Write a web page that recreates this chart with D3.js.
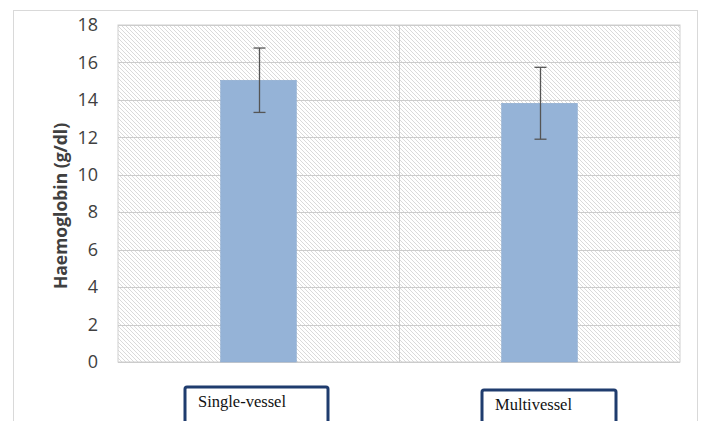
<!DOCTYPE html>
<html>
<head>
<meta charset="utf-8">
<script src="https://cdn.jsdelivr.net/npm/d3@7"></script>
<style>
  html, body { margin: 0; padding: 0; background: #ffffff; }
  #chart { width: 702px; height: 421px; overflow: hidden; }
  .cat-label { font-family: 'Liberation Serif', 'Times New Roman', 'DejaVu Serif', serif; }
</style>
</head>
<body>
<div id="chart"></div>
<script>
const categories = ['Single-vessel', 'Multivessel']
const meanValues = [15.05, 13.82]
const sdValues = [1.72, 1.92]
const yTicks = [0, 2, 4, 6, 8, 10, 12, 14, 16, 18]

const width = 702
const height = 421
const margin = { left: 118, top: 25, right: 22, bottom: 59 }

const svg = d3
  .select('#chart')
  .append('svg')
  .attr('width', width)
  .attr('height', height)

// hatch fill of the plot area
const defs = svg.append('defs')
const hatch = defs
  .append('pattern')
  .attr('id', 'hatch')
  .attr('patternUnits', 'userSpaceOnUse')
  .attr('width', 4)
  .attr('height', 4)
hatch.append('rect').attr('width', 4).attr('height', 4).attr('fill', '#ffffff')
hatch
  .append('path')
  .attr('d', 'M-1,-1 L5,5 M-1,3 L1,5 M3,-1 L5,1')
  .attr('stroke', '#dadada')
  .attr('stroke-width', 1)

// outer chart border
svg
  .append('rect')
  .attr('x', 13.5)
  .attr('y', 10.5)
  .attr('width', 684)
  .attr('height', 440)
  .attr('fill', 'none')
  .attr('stroke', '#d9d9d9')
  .attr('stroke-width', 1)

const xScale = d3
  .scaleBand()
  .domain(categories)
  .range([margin.left, width - margin.right])
  .paddingInner(0.73)
  .paddingOuter(0.365)

const yScale = d3
  .scaleLinear()
  .domain([0, 18])
  .range([height - margin.bottom, margin.top])

const plotLeft = margin.left
const plotRight = width - margin.right
const plotTop = yScale(18)
const plotBottom = yScale(0)

svg
  .append('rect')
  .attr('x', plotLeft)
  .attr('y', plotTop)
  .attr('width', plotRight - plotLeft)
  .attr('height', plotBottom - plotTop)
  .attr('fill', 'url(#hatch)')
  .attr('stroke', '#cfcfcf')
  .attr('stroke-width', 1)

// horizontal grid
svg
  .append('g')
  .selectAll('line')
  .data(yTicks)
  .join('line')
  .attr('x1', plotLeft)
  .attr('x2', plotRight)
  .attr('y1', d => Math.round(yScale(d)) + 0.5)
  .attr('y2', d => Math.round(yScale(d)) + 0.5)
  .attr('stroke', '#cccccc')
  .attr('stroke-width', 1)

// vertical separator between categories
const step = xScale.step()
const midX = Math.round(xScale(categories[0]) + xScale.bandwidth() / 2 + step / 2) + 0.5
svg
  .append('line')
  .attr('x1', midX)
  .attr('x2', midX)
  .attr('y1', plotTop)
  .attr('y2', plotBottom)
  .attr('stroke', '#cccccc')
  .attr('stroke-width', 1)

// y axis labels
const yAxis = d3.axisLeft(yScale).tickValues(yTicks).tickSize(0).tickPadding(20)
const yAxisG = svg
  .append('g')
  .attr('transform', `translate(${plotLeft}, 0)`)
  .call(yAxis)
yAxisG.select('.domain').remove()
yAxisG
  .selectAll('text')
  .attr('font-family', 'Open Sans, sans-serif')
  .attr('font-size', 18)
  .attr('fill', '#404040')

svg
  .append('text')
  .attr('transform', 'translate(67, 206) rotate(-90)')
  .attr('text-anchor', 'middle')
  .attr('font-family', 'Open Sans, sans-serif')
  .attr('font-weight', 'bold')
  .attr('font-size', 17.5)
  .attr('fill', '#404040')
  .text('Haemoglobin (g/dl)')

// bars
svg
  .append('g')
  .selectAll('rect')
  .data(categories)
  .join('rect')
  .attr('x', d => xScale(d))
  .attr('y', (d, i) => yScale(meanValues[i]))
  .attr('width', xScale.bandwidth())
  .attr('height', (d, i) => yScale(0) - yScale(meanValues[i]))
  .attr('fill', '#95b3d7')
  .attr('stroke', '#8aa8cc')
  .attr('stroke-width', 0.5)

// error bars
const errG = svg.append('g').attr('stroke', '#555555').attr('stroke-width', 1.3)
categories.forEach((cat, i) => {
  const cx = Math.round(xScale(cat) + xScale.bandwidth() / 2) + 0.5
  const yHi = yScale(meanValues[i] + sdValues[i])
  const yLo = yScale(meanValues[i] - sdValues[i])
  errG.append('line').attr('x1', cx).attr('x2', cx).attr('y1', yHi).attr('y2', yLo)
  errG.append('line').attr('x1', cx - 6).attr('x2', cx + 6).attr('y1', yHi).attr('y2', yHi)
  errG.append('line').attr('x1', cx - 6).attr('x2', cx + 6).attr('y1', yLo).attr('y2', yLo)
})

// category label boxes
const boxes = [
  { x: 185, y: 387, w: 143 },
  { x: 482, y: 390, w: 134 },
]
categories.forEach((cat, i) => {
  const b = boxes[i]
  svg
    .append('rect')
    .attr('x', b.x)
    .attr('y', b.y)
    .attr('width', b.w)
    .attr('height', 60)
    .attr('rx', 2)
    .attr('fill', '#ffffff')
    .attr('stroke', '#1f3c6e')
    .attr('stroke-width', 3)
  svg
    .append('text')
    .attr('class', 'cat-label')
    .attr('x', b.x + 13)
    .attr('y', b.y + 20)
    .attr('font-size', 16.5)
    .attr('fill', '#111111')
    .text(cat)
})
</script>
</body>
</html>
